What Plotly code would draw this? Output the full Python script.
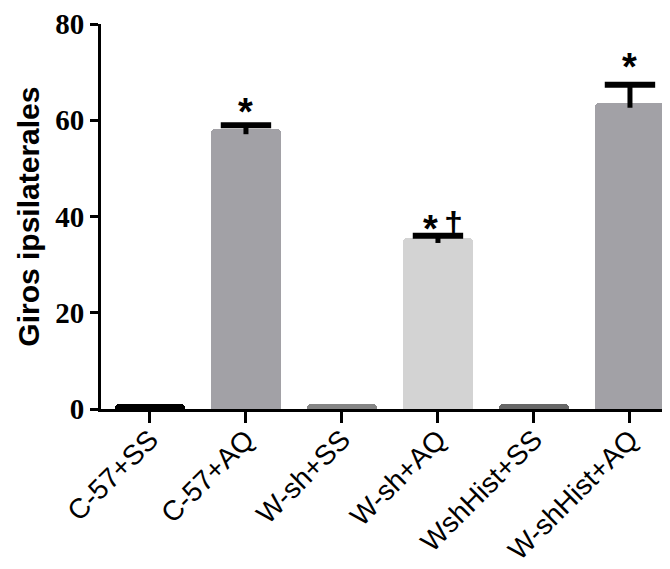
import plotly.graph_objects as go

categories = ["C-57+SS", "C-57+AQ", "W-sh+SS", "W-sh+AQ", "WshHist+SS", "W-shHist+AQ"]
values = [1.0, 58.1, 1.0, 35.5, 1.0, 63.6]
err_plus = [0.0, 0.85, 0.0, 0.5, 0.0, 3.8]
bar_colors = ["#000000", "#a2a1a6", "#858585", "#d3d3d3", "#666666", "#a2a1a6"]
y_ticks = [0, 20, 40, 60, 80]
# significance marks: (text, category index, y centre, x offset px, font size)
marks = [("*", 1, 63.6, 0, 38), ("*", 3, 39.3, -7, 38), ("\u2020", 3, 38.6, 16, 34), ("*", 5, 73.0, 0, 38)]

x_idx = list(range(len(categories)))
STUB = 1.0  # visible part of the error stem below the bar top

fig = go.Figure()
fig.add_trace(go.Bar(
    x=x_idx, y=values, width=0.73,
    marker=dict(color=bar_colors, line=dict(width=0), cornerradius=4),
    showlegend=False,
))

# upward-only error bars: stems + caps
stem_x, stem_y, cap_x, cap_y = [], [], [], []
for xi, v, e in zip(x_idx, values, err_plus):
    if e > 0:
        stem_x += [xi, xi, None]
        stem_y += [v - STUB, v + e, None]
        cap_x.append(xi)
        cap_y.append(v + e)
fig.add_trace(go.Scatter(x=stem_x, y=stem_y, mode="lines",
                         line=dict(color="#000000", width=5), showlegend=False, hoverinfo="skip"))
fig.add_trace(go.Scatter(x=cap_x, y=cap_y, mode="markers",
                         marker=dict(symbol="line-ew", size=36, line=dict(color="#000000", width=6)),
                         showlegend=False, hoverinfo="skip"))

for txt, xi, yv, dx, fs in marks:
    is_star = txt == "*"
    fig.add_annotation(x=xi, y=yv, text="<b>" + txt + "</b>", showarrow=False, xanchor="center",
                       yanchor="middle", xshift=dx, yshift=-9 if is_star else 0,
                       font=dict(family="Liberation Sans", size=fs, color="#000000"))

fig.add_annotation(xref="paper", yref="paper", x=-0.128, y=0.5, text="<b>Giros ipsilaterales</b>",
                   textangle=-90, showarrow=False, xanchor="center", yanchor="middle",
                   font=dict(family="Liberation Sans", size=30, color="#000000"))

fig.update_layout(
    width=662, height=561,
    margin=dict(l=93, r=0, t=16, b=160, autoexpand=False),
    plot_bgcolor="white", paper_bgcolor="white",
    bargap=0,
)
fig.update_xaxes(
    range=[-0.51, 5.417], tickmode="array", tickvals=x_idx, ticktext=categories,
    tickangle=-45, ticks="outside", ticklen=11, tickwidth=3, tickcolor="#000000",
    ticklabelstandoff=-11, ticklabelshift=0,
    showline=True, linecolor="#000000", linewidth=3, showgrid=False, zeroline=False,
    tickfont=dict(family="Liberation Sans", size=28, color="#000000"), automargin=False,
)
fig.update_yaxes(
    range=[0, 80], tickmode="array", tickvals=y_ticks, ticktext=[str(v) for v in y_ticks],
    ticks="outside", ticklen=8, tickwidth=3, tickcolor="#000000",
    showline=True, linecolor="#000000", linewidth=3, showgrid=False, zeroline=False,
    tickfont=dict(family="Liberation Serif", size=29, color="#000000", weight="bold"), automargin=False,
)

fig.write_html("out.html")
